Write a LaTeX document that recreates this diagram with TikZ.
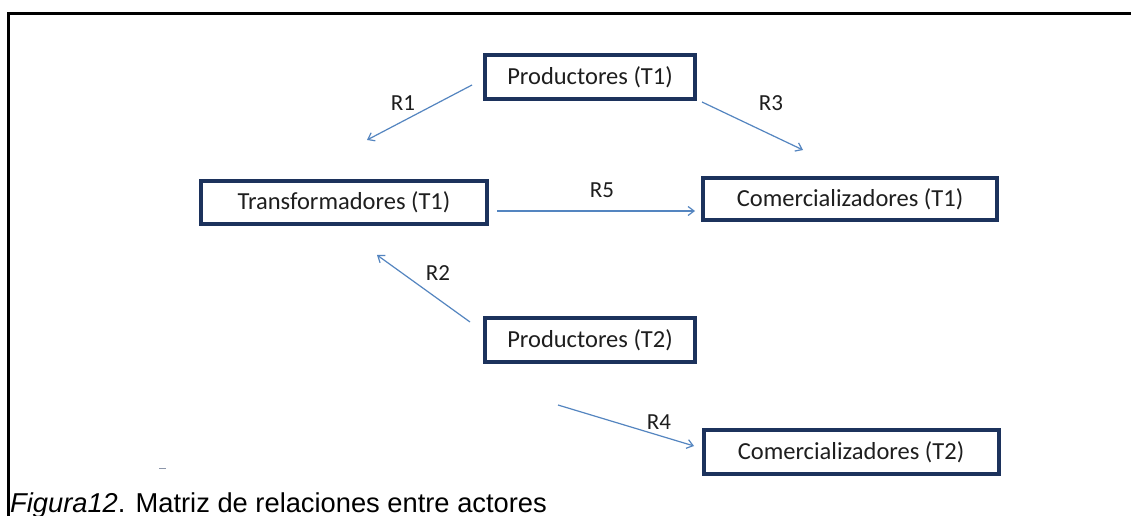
\documentclass[tikz,border=0pt]{standalone}
\usepackage{fontspec}
\setmainfont{Carlito}
\newfontfamily\piefont{Liberation Sans}
\usetikzlibrary{positioning,arrows.meta}
\definecolor{cajaazul}{RGB}{28,50,92}
\definecolor{flechaazul}{RGB}{84,133,192}
\definecolor{textogris}{RGB}{30,30,30}
\definecolor{marcagris}{RGB}{140,150,170}

\begin{document}
\begin{tikzpicture}[x=1pt,y=-1pt,
    actor/.style={draw=cajaazul,line width=4pt,fill=white,text=textogris,
                  font=\fontsize{24.5}{28}\selectfont,inner sep=0pt},
    rel/.style={draw=flechaazul,line width=1.2pt,
                -{Straight Barb[length=6pt,width=9pt]}},
    etiq/.style={text=textogris,font=\fontsize{23}{27}\selectfont}]
    \useasboundingbox[fill=white] (0,0) rectangle (1131,516);
    % marco
    \draw[line width=3pt] (1131,14) -- (8,14) -- (8,516);
    % Actores
    \node[actor,minimum width=210pt,minimum height=44pt] (prodA) at (590,77) {Productores (T1)};
    \node[actor,minimum width=286pt,minimum height=43pt] (trans) at (344,202) {Transformadores (T1)};
    \node[actor,minimum width=294pt,minimum height=42pt] (comA) at (850,199) {Comercializadores (T1)};
    \node[actor,minimum width=210pt,minimum height=44pt] (prodB) at (590,340) {Productores (T2)};
    \node[actor,minimum width=295pt,minimum height=44pt] (comB) at (851,452) {Comercializadores (T2)};
    % Extremos de las flechas
    \coordinate (r1a) at (472,85);  \coordinate (r1b) at (367,140);
    \coordinate (r3a) at (702,102); \coordinate (r3b) at (803,150);
    \coordinate (r5a) at (497,211); \coordinate (r5b) at (695,211);
    \coordinate (r2a) at (470,322); \coordinate (r2b) at (377,255);
    \coordinate (r4a) at (558,405); \coordinate (r4b) at (694,446);
    % Relaciones
    \draw[rel] (r1a) -- (r1b);
    \draw[rel] (r3a) -- (r3b);
    \draw[rel] (r5a) -- (r5b);
    \draw[rel] (r2a) -- (r2b);
    \draw[rel] (r4a) -- (r4b);
    \node[etiq] (e1) at (403,103) {R1};
    \node[etiq] (e3) at (771,103) {R3};
    \node[etiq] (e5) at (602,190) {R5};
    \node[etiq] (e2) at (438,273) {R2};
    \node[etiq] (e4) at (659,422) {R4};
    % marca suelta
    \draw[marcagris,line width=1pt] (159,468) -- (166,468);
    % Pie de figura
    \node[anchor=base west,inner sep=0pt,
          font=\piefont\fontsize{27.3}{32}\selectfont] (pie) at (10,512)
          {{\itshape Figura12}. Matriz de relaciones entre actores};
\end{tikzpicture}
\end{document}
